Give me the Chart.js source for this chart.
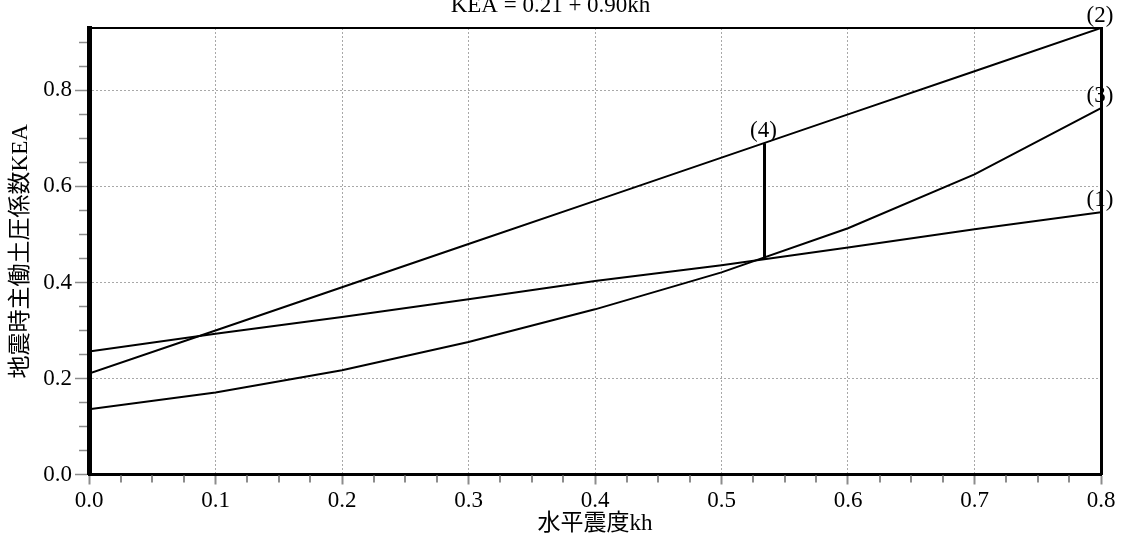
<!DOCTYPE html>
<html>
<head>
<meta charset="utf-8">
<script src="https://cdn.jsdelivr.net/npm/chart.js@4"></script>
<style>
html,body{margin:0;padding:0;background:#fff;}
canvas{display:block;}
</style>
</head>
<body>
<canvas id="c" width="1124" height="539"></canvas>
<script>
// ---- text ----
const TITLE = 'KEA = 0.21 + 0.90kh';
const X_TITLE = '水平震度kh';
const Y_TITLE = '地震時主働土圧係数KEA';
const SERIES_LABELS = ['(1)', '(2)', '(3)', '(4)'];

// ---- data ----
const KH = [0.0, 0.1, 0.2, 0.3, 0.4, 0.5, 0.6, 0.7, 0.8];
const KEA_1 = [0.256, 0.293, 0.328, 0.365, 0.403, 0.436, 0.473, 0.511, 0.546];
const KEA_2 = [0.210, 0.300, 0.390, 0.480, 0.570, 0.660, 0.750, 0.840, 0.930];
const KEA_3 = [0.136, 0.171, 0.217, 0.276, 0.344, 0.421, 0.513, 0.625, 0.763];
const KH_4 = [0.534, 0.534];
const KEA_4 = [0.448, 0.690];

// ---- axes ----
const X_MIN = 0, X_MAX = 0.8;
const Y_MIN = 0, Y_MAX = 0.93;
const X_TICKS = [0.0, 0.1, 0.2, 0.3, 0.4, 0.5, 0.6, 0.7, 0.8];
const X_TICK_LABELS = ['0.0', '0.1', '0.2', '0.3', '0.4', '0.5', '0.6', '0.7', '0.8'];
const Y_TICKS = [0.0, 0.2, 0.4, 0.6, 0.8];
const Y_TICK_LABELS = ['0.0', '0.2', '0.4', '0.6', '0.8'];
const X_MINOR = [0.025, 0.05, 0.075, 0.125, 0.15, 0.175, 0.225, 0.25, 0.275, 0.325, 0.35, 0.375,
                 0.425, 0.45, 0.475, 0.525, 0.55, 0.575, 0.625, 0.65, 0.675, 0.725, 0.75, 0.775];
const Y_MINOR = [0.05, 0.1, 0.15, 0.25, 0.3, 0.35, 0.45, 0.5, 0.55, 0.65, 0.7, 0.75, 0.85, 0.9];

const FONT = "'Liberation Serif', 'Noto Sans CJK JP', serif";
const GRID_COLOR = '#a8a8a8';
const TICK_COLOR = '#8c8c8c';

function pts(xs, ys) { return xs.map((x, i) => ({ x: x, y: ys[i] })); }

const minorTicks = {
  id: 'minorTicks',
  afterDraw(chart) {
    const ctx = chart.ctx, a = chart.chartArea;
    const xs = chart.scales.x, ys = chart.scales.y;
    ctx.save();
    ctx.strokeStyle = TICK_COLOR;
    ctx.lineWidth = 2;
    X_MINOR.forEach(v => {
      const px = Math.round(xs.getPixelForValue(v));
      ctx.beginPath(); ctx.moveTo(px, a.bottom + 1); ctx.lineTo(px, a.bottom + 8); ctx.stroke();
    });
    ctx.lineWidth = 1.5;
    Y_MINOR.forEach(v => {
      const py = Math.round(ys.getPixelForValue(v)) + 0.5;
      ctx.beginPath(); ctx.moveTo(a.left - 2, py); ctx.lineTo(a.left - 10, py); ctx.stroke();
    });
    ctx.restore();
  }
};

const seriesLabels = {
  id: 'seriesLabels',
  afterDraw(chart) {
    const ctx = chart.ctx;
    const xs = chart.scales.x, ys = chart.scales.y;
    const last = KH.length - 1;
    const anchors = [
      [KH[last], KEA_1[last]],
      [KH[last], KEA_2[last]],
      [KH[last], KEA_3[last]],
      [KH_4[1], KEA_4[1]]
    ];
    ctx.save();
    ctx.font = "23px " + FONT;
    ctx.fillStyle = '#000';
    ctx.textAlign = 'center';
    ctx.textBaseline = 'alphabetic';
    anchors.forEach((p, i) => {
      ctx.fillText(SERIES_LABELS[i], xs.getPixelForValue(p[0]) - 1, ys.getPixelForValue(p[1]) - 6);
    });
    ctx.restore();
  }
};

const lineStyle = { borderColor: '#000', borderWidth: 2, pointRadius: 0, tension: 0, fill: false, showLine: true };

new Chart(document.getElementById('c'), {
  type: 'scatter',
  data: {
    datasets: [
      Object.assign({ label: SERIES_LABELS[0], data: pts(KH, KEA_1) }, lineStyle),
      Object.assign({ label: SERIES_LABELS[1], data: pts(KH, KEA_2) }, lineStyle),
      Object.assign({ label: SERIES_LABELS[2], data: pts(KH, KEA_3) }, lineStyle),
      Object.assign({ label: SERIES_LABELS[3], data: pts(KH_4, KEA_4) }, lineStyle, { borderWidth: 3 })
    ]
  },
  options: {
    responsive: false,
    devicePixelRatio: 1,
    animation: false,
    layout: { padding: { left: 0, right: 23, top: 0, bottom: 0 } },
    plugins: {
      legend: { display: false },
      tooltip: { enabled: false },
      title: {
        display: true,
        text: TITLE,
        color: '#000',
        font: { family: FONT, size: 23, weight: 'normal', lineHeight: 1.2 },
        padding: { top: -7.5, bottom: 7.9 }
      }
    },
    scales: {
      x: {
        type: 'linear', position: 'bottom', min: X_MIN, max: X_MAX,
        afterBuildTicks: s => { s.ticks = X_TICKS.map(v => ({ value: v })); },
        ticks: {
          autoSkip: false, maxRotation: 0, padding: 3, color: '#000',
          font: { family: FONT, size: 23, lineHeight: 1.2 },
          callback: (v, i) => X_TICK_LABELS[i]
        },
        grid: {
          color: c => (c.tick && (c.tick.value === X_MIN || c.tick.value === X_MAX)) ? 'rgba(0,0,0,0)' : GRID_COLOR,
          lineWidth: 1, tickLength: 10, tickColor: TICK_COLOR, tickWidth: 2
        },
        border: { display: true, color: '#000', width: 3, dash: [2, 2] },
        title: {
          display: true, text: X_TITLE, color: '#000',
          font: { family: FONT, size: 23, lineHeight: 1.2 },
          padding: { top: -7.9, bottom: 1.2 }
        }
      },
      y: {
        type: 'linear', position: 'left', min: Y_MIN, max: Y_MAX,
        afterBuildTicks: s => { s.ticks = Y_TICKS.map(v => ({ value: v })); },
        ticks: {
          autoSkip: false, padding: 3, color: '#000',
          font: { family: FONT, size: 23, lineHeight: 1.2 },
          callback: (v, i) => Y_TICK_LABELS[i]
        },
        grid: {
          color: c => (c.tick && c.tick.value === Y_MIN) ? 'rgba(0,0,0,0)' : GRID_COLOR,
          lineWidth: 1, tickLength: 14, tickColor: TICK_COLOR, tickWidth: 1.5
        },
        border: { display: true, color: '#000', width: 5, dash: [2, 2] },
        title: {
          display: true, text: Y_TITLE, color: '#000',
          font: { family: FONT, size: 23, lineHeight: 1.2 },
          padding: { top: 7.2, bottom: 5.45 }
        }
      },
      x2: {
        type: 'linear', position: 'top', min: X_MIN, max: X_MAX,
        ticks: { display: false },
        grid: { drawOnChartArea: false, drawTicks: false },
        border: { display: true, color: '#000', width: 2 }
      },
      y2: {
        type: 'linear', position: 'right', min: Y_MIN, max: Y_MAX,
        ticks: { display: false },
        grid: { drawOnChartArea: false, drawTicks: false },
        border: { display: true, color: '#000', width: 3 }
      }
    }
  },
  plugins: [minorTicks, seriesLabels]
});
</script>
</body>
</html>
